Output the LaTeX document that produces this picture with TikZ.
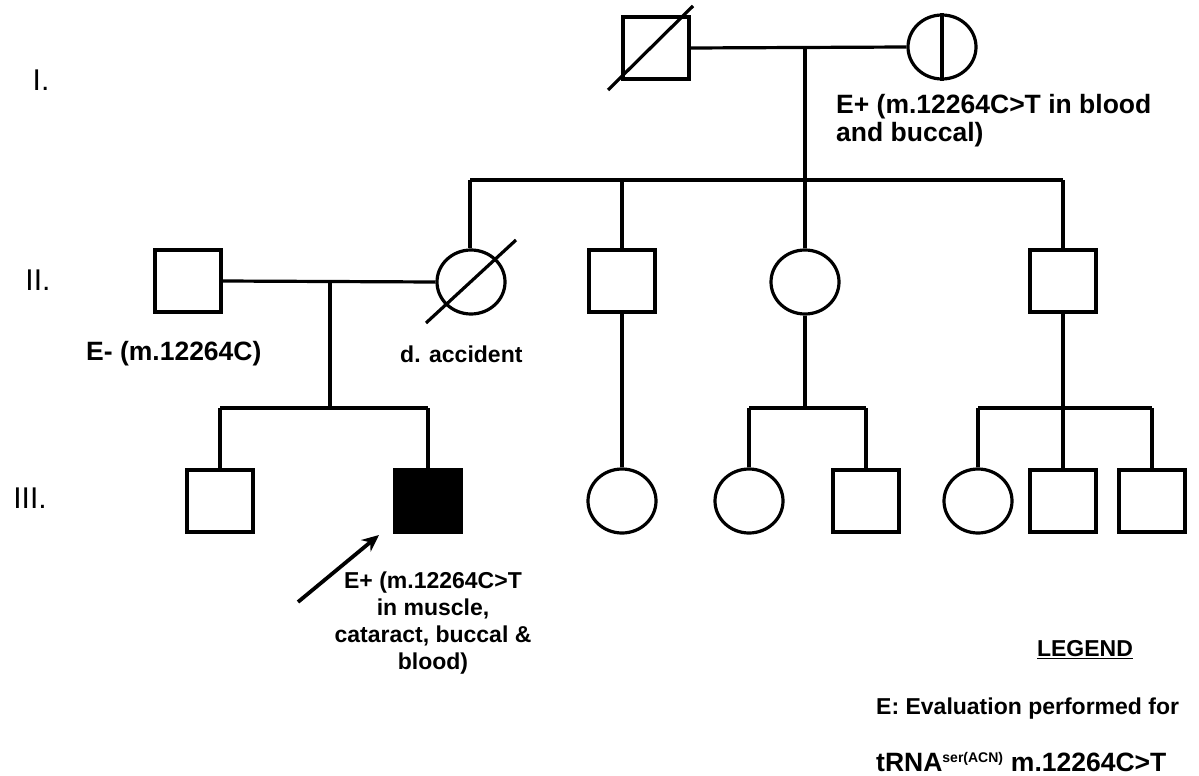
\documentclass[tikz,border=0pt]{standalone}
\usepackage{fontspec}
\setmainfont{Liberation Sans}
\usetikzlibrary{shapes.geometric,arrows.meta}
\begin{document}
\begin{tikzpicture}[x=1pt,y=-1pt,
  ln/.style={line width=3.2pt},
  male/.style={draw,ln,rectangle,minimum width=66pt,minimum height=62pt,inner sep=0pt},
  female/.style={draw,ln,ellipse,minimum width=68pt,minimum height=64pt,inner sep=0pt},
  affected/.style={male,fill=black},
  gen/.style={font=\fontsize{30}{34}\selectfont,inner sep=0pt,anchor=center},
  lbl/.style={font=\fontsize{23}{27}\selectfont\bfseries,inner sep=0pt},
  lblbig/.style={font=\fontsize{26.5}{28}\selectfont\bfseries,inner sep=0pt},
  lblc/.style={lbl,align=center}
]
\useasboundingbox (0,0) rectangle (1199,776);
% generation labels
\node[gen] (gI) at (41,80) {I.};
\node[gen] (gII) at (38,280) {II.};
\node[gen] (gIII) at (30,498) {III.};
% generation I
\node[male] (I1) at (656,48) {};
\node[female] (I2) at (942,47) {};
\draw[ln] (608,90) -- (693,6);
\draw[ln] (I2.north) -- (I2.south);
\coordinate (m1) at (805,47);
\coordinate (s1) at (805,180);
\draw[ln] (I1.east) -- (I2.west);
\draw[ln] (m1) -- (s1);
% generation II
\node[male] (II1) at (188,281) {};
\node[female] (II2) at (471,282) {};
\draw[ln] (426,323) -- (516,240);
\node[male] (II3) at (622,281) {};
\node[female] (II4) at (805,282) {};
\node[male] (II5) at (1063,281) {};
\coordinate (sL) at (470,180);
\coordinate (sR) at (1063,180);
\draw[ln] (sL) -- (sR);
\draw[ln] (sL) -- (sL |- II2.north);
\draw[ln] (622,180) -- (II3.north);
\draw[ln] (s1) -- (II4.north);
\draw[ln] (sR) -- (II5.north);
\draw[ln] (II1.east) -- (II2.west);
\coordinate (m2) at (330,281);
\coordinate (s2) at (330,408);
\draw[ln] (m2) -- (s2);
% generation III
\node[male] (III1) at (220,501) {};
\node[affected] (III2) at (428,501) {};
\node[female] (III3) at (622,501) {};
\node[female] (III4) at (749,501) {};
\node[male] (III5) at (866,501) {};
\node[female] (III6) at (978,501) {};
\node[male] (III7) at (1063,501) {};
\node[male] (III8) at (1152,501) {};
% sibships III
\draw[ln] (220,408) -- (428,408);
\draw[ln] (220,408) -- (III1.north);
\draw[ln] (428,408) -- (III2.north);
\draw[ln] (II3.south) -- (III3.north);
\coordinate (s4) at (805,408);
\draw[ln] (II4.south) -- (s4);
\draw[ln] (749,408) -- (866,408);
\draw[ln] (749,408) -- (III4.north);
\draw[ln] (866,408) -- (III5.north);
\coordinate (s5) at (1063,408);
\draw[ln] (II5.south) -- (s5);
\draw[ln] (978,408) -- (1152,408);
\draw[ln] (978,408) -- (III6.north);
\draw[ln] (s5) -- (III7.north);
\draw[ln] (1152,408) -- (III8.north);
% proband arrow
\coordinate (pa) at (298,602);
\coordinate (pb) at (379,535);
\draw[line width=3.8pt,-{Stealth[length=17pt,width=15pt]}] (pa) -- (pb);
% labels
\node[lblbig,align=left,anchor=north west] (tI2) at (836,94) {E+ (m.12264C>T in blood\\and buccal)};
\node[lblbig,anchor=west] (tII1) at (86,354) {E- (m.12264C)};
\node[lbl,anchor=west] (tII2) at (400,354) {d. accident};
\node[lblc,anchor=north] (tIII2) at (433,572) {E+ (m.12264C>T\\in muscle,\\cataract, buccal \&\\blood)};
\node[lbl,anchor=center] (leg) at (1085,650) {\underline{LEGEND}};
\node[lbl,anchor=west] (leg1) at (876,709) {E: Evaluation performed for};
\node[lblbig,anchor=west] (leg2) at (876,762) {tRNA\textsuperscript{\fontsize{14}{15}\selectfont ser(ACN)}\ m.12264C>T};
\end{tikzpicture}
\end{document}
